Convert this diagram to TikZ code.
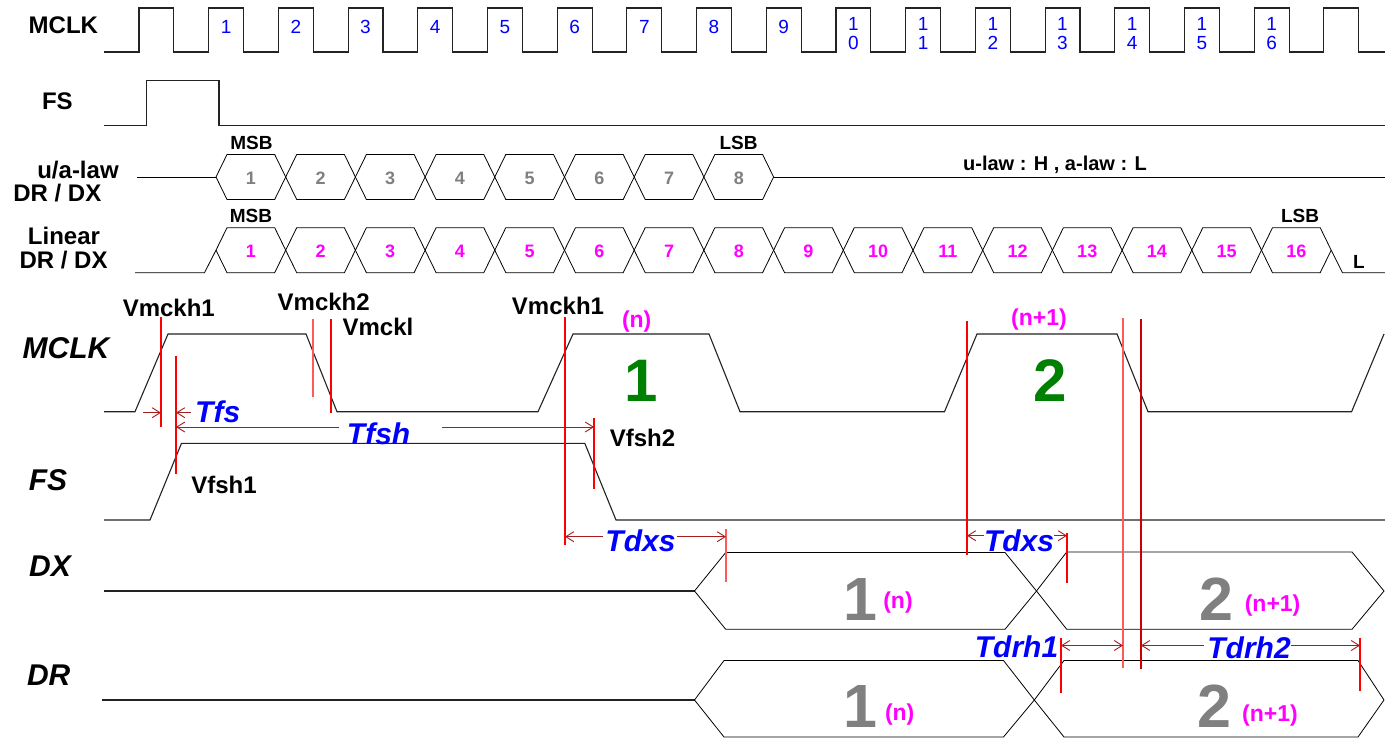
\documentclass[tikz,border=0pt]{standalone}
\usepackage{fontspec}
\setmainfont{Liberation Sans}
\usetikzlibrary{arrows.meta}
\definecolor{dimred}{RGB}{165,30,30}
\definecolor{lightred}{RGB}{255,90,90}
\definecolor{numblue}{RGB}{0,0,255}
\definecolor{nummag}{RGB}{255,0,255}
\definecolor{numgreen}{RGB}{0,128,0}
\definecolor{numgray}{RGB}{128,128,128}
\definecolor{wavecol}{RGB}{35,35,35}
\begin{document}
\begin{tikzpicture}[x=1pt,y=-1pt,
  wave/.style={draw=wavecol,line width=1.1pt,line join=miter},
  hexline/.style={draw=black,line width=0.8pt},
  mk/.style={draw=red,line width=1.4pt},
  mklight/.style={draw=lightred,line width=1.5pt},
  dimtip/.style={draw=dimred,line width=0.9pt,-{Straight Barb[length=8pt,width=10pt]}},
  dimboth/.style={draw=dimred,line width=0.9pt,{Straight Barb[length=8pt,width=10pt]}-{Straight Barb[length=8pt,width=10pt]}},
  txt/.style={inner sep=0pt,anchor=base},
  lbl/.style={txt,font=\fontsize{24}{28}\selectfont\bfseries},
  sig/.style={txt,font=\fontsize{30}{34}\selectfont\bfseries\itshape},
  tim/.style={txt,text=numblue,font=\fontsize{30}{34}\selectfont\bfseries\itshape},
  bnum/.style={txt,text=numblue,font=\fontsize{19}{19}\selectfont},
  gnum/.style={txt,text=numgray,font=\fontsize{18}{20}\selectfont\bfseries},
  pnum/.style={txt,text=nummag,font=\fontsize{18}{20}\selectfont\bfseries},
  bit/.style={txt,font=\fontsize{19}{22}\selectfont\bfseries},
  big/.style={txt,font=\fontsize{61}{62}\selectfont\bfseries},
  idx/.style={inner sep=0pt,anchor=center,text=nummag,font=\fontsize{23}{26}\selectfont\bfseries},
]
\useasboundingbox[fill=white] (0,0) rectangle (1385,738);

% ---------- top overview ----------
\draw[wave] (104,52) \foreach \k in {0,...,17}{ -- ({139+69.7*\k},52) -- ++(0,-44) -- ++(34.85,0) -- ++(0,44)} -- (1385,52);
\foreach \k in {1,...,9}{
  \node[bnum] (mn\k) at ({156.4+69.7*\k},34) {\k};
}
\foreach \k/\d in {10/0,11/1,12/2,13/3,14/4,15/5,16/6}{
  \node[bnum] (mna\k) at ({156.4+69.7*\k},31) {1};
  \node[bnum] (mnb\k) at ({156.4+69.7*\k},50) {\d};
}
\draw[wave] (104,125.5) -- (146.5,125.5) -- (146.5,80.7) -- (219,80.7) -- (219,125.5) -- (1385,125.5);

\node[lbl] (lmclk) at (63.4,33.3) {MCLK};
\node[lbl] (lfs) at (57.4,110) {FS};
\node[lbl] (lul) at (78,178.3) {u/a-law};
\node[lbl] (ldr1) at (57.3,201.7) {DR / DX};
\node[lbl] (llin) at (64,245) {Linear};
\node[lbl] (ldr2) at (63.6,268.3) {DR / DX};

% u/a-law row
\draw[hexline] (137,177) -- (216,177);
\foreach \j in {0,...,7}{
  \pgfmathsetmacro\xa{216+69.7*\j}
  \pgfmathsetmacro\xb{216+69.7*(\j+1)}
  \draw[hexline] (\xa,177) -- ({\xa+11},154.5) -- ({\xb-11},154.5) -- (\xb,177) -- ({\xb-11},199.5) -- ({\xa+11},199.5) -- cycle;
  \pgfmathtruncatemacro\n{\j+1}
  \node[gnum] (gn\j) at ({\xa+34.85},185) {\n};
}
\draw[hexline] (773.6,177) -- (1385,177);
\node[bit] (msb1) at (251.5,149.3) {MSB};
\node[bit] (lsb1) at (738.5,149.3) {LSB};
\node[bit, font=\fontsize{20}{22}\selectfont\bfseries] (ulawtxt) at (1055,170.7) {u-law : H , a-law : L};

% linear row
\draw[hexline] (135,272.7) -- (204.5,272.7) -- (216,250.2);
\foreach \j in {0,...,15}{
  \pgfmathsetmacro\xa{216+69.7*\j}
  \pgfmathsetmacro\xb{216+69.7*(\j+1)}
  \draw[hexline] (\xa,250.2) -- ({\xa+11},227.7) -- ({\xb-11},227.7) -- (\xb,250.2) -- ({\xb-11},272.7) -- ({\xa+11},272.7) -- cycle;
  \pgfmathtruncatemacro\n{\j+1}
  \node[pnum] (pn\j) at ({\xa+34.85},257.7) {\n};
}
\draw[hexline] (1331.2,250.2) -- (1342.5,272.7) -- (1385,272.7);
\node[bit] (msb2) at (251,222.7) {MSB};
\node[bit] (lsb2) at (1300,222.7) {LSB};
\node[bit] (lowl) at (1359,269) {L};

% ---------- detailed timing ----------
\node[sig] (smclk) at (66,358.3) {MCLK};
\node[sig] (sfs) at (48,490) {FS};
\node[sig] (sdx) at (50,576.7) {DX};
\node[sig] (sdr) at (48.7,685) {DR};

\draw[wave] (104,411.7) -- (135,411.7) -- (168,334) -- (306,334) -- (337,411.7) -- (538,411.7) -- (573,334) -- (709,334) -- (740,411.7) -- (944.5,411.7) -- (977,334) -- (1117,334) -- (1148,411.7) -- (1351.6,411.7) -- (1384,334);
\draw[wave] (104,520) -- (150,520) -- (181.5,443.3) -- (584.8,443.3) -- (616,520) -- (1385,520);

% DX
\draw[wave] (104,591) -- (694.5,591);
\draw[hexline] (694.5,591) -- (725.7,552.5) -- (1005,552.5) -- (1036.5,591) -- (1005,629.3) -- (725.7,629.3) -- cycle;
\draw[hexline] (1036.5,591) -- (1066.7,552) -- (1352,552) -- (1384,591) -- (1352,629.3) -- (1066.7,629.3) -- cycle;
% DR
\draw[wave] (102,700) -- (694.5,700);
\draw[hexline] (694.5,700) -- (724,660.5) -- (1003.5,660.5) -- (1034.3,700) -- (1003.5,737) -- (724,737) -- cycle;
\draw[hexline] (1034.3,700) -- (1064,660.5) -- (1358,660.5) -- (1384,700) -- (1358,737) -- (1064,737) -- cycle;

% red markers
\draw[mk] (161,317) -- (161,427);
\draw[mk] (176,356) -- (176,474);
\draw[mklight] (313,319) -- (313,397);
\draw[mk] (331,319) -- (331,413);
\draw[mk] (565,317) -- (565,545);
\draw[mk] (594,418) -- (594,489);
\draw[mklight] (726,529) -- (726,582);
\draw[mk] (967,321) -- (967,555);
\draw[mk] (1067,533) -- (1067,583);
\draw[mklight] (1123,318) -- (1123,668);
\draw[draw=red!80!black,line width=1.2pt] (1141,319) -- (1141,669);
\draw[mk] (1061,638) -- (1061,693);
\draw[mk] (1360,637.5) -- (1360,691);

% dimension arrows
\draw[dimtip] (143,412.7) -- (161,412.7);
\draw[dimtip] (191,412.7) -- (176,412.7);
\draw[dimtip] (339,427) -- (176,427);
\draw[dimtip] (442,427) -- (594,427);
\draw[dimtip] (603,536.7) -- (565,536.7);
\draw[dimtip] (677,536.7) -- (726,536.7);
\draw[dimtip] (984,535.7) -- (967,535.7);
\draw[dimtip] (1054,535.7) -- (1067,535.7);
\draw[dimboth] (1061,645.5) -- (1123,645.5);
\draw[dimtip] (1204,645.5) -- (1141,645.5);
\draw[dimtip] (1291,645.5) -- (1360,645.5);

% labels
\node[lbl] (vm1) at (168.8,316.7) {Vmckh1};
\node[lbl] (vm2) at (323.7,310.7) {Vmckh2};
\node[lbl] (vml) at (378,335.7) {Vmckl};
\node[lbl] (vm3) at (558,314) {Vmckh1};
\node[lbl] (vf2) at (642.5,446) {Vfsh2};
\node[lbl] (vf1) at (224,493.3) {Vfsh1};

\node[tim,anchor=base west] (tfs) at (195,422.7) {Tfs};
\node[tim] (tfsh) at (378.6,444) {Tfsh};
\node[tim] (tdxs1) at (640.5,551.7) {Tdxs};
\node[tim] (tdxs2) at (1019,551.7) {Tdxs};
\node[tim] (tdrh1) at (1016.5,657.3) {Tdrh1};
\node[tim] (tdrh2) at (1249,658.3) {Tdrh2};

\node[big,text=numgreen,font=\fontsize{60}{62}\selectfont\bfseries] (g1) at (641,401.7) {1};
\node[big,text=numgreen,font=\fontsize{60}{62}\selectfont\bfseries] (g2) at (1050,401.7) {2};
\node[idx] (in1) at (636.7,321.2) {(n)};
\node[idx] (in2) at (1039,320) {(n+1)};

\node[big,text=numgray] (dx1) at (860.8,620) {1};
\node[idx] (dxn1) at (898,602.5) {(n)};
\node[big,text=numgray] (dx2) at (1216,620.7) {2};
\node[idx] (dxn2) at (1272.6,605.3) {(n+1)};
\node[big,text=numgray] (dr1) at (860.8,727.5) {1};
\node[idx] (drn1) at (899.7,714.8) {(n)};
\node[big,text=numgray] (dr2) at (1214.5,727.5) {2};
\node[idx] (drn2) at (1270,715.5) {(n+1)};
\end{tikzpicture}
\end{document}
